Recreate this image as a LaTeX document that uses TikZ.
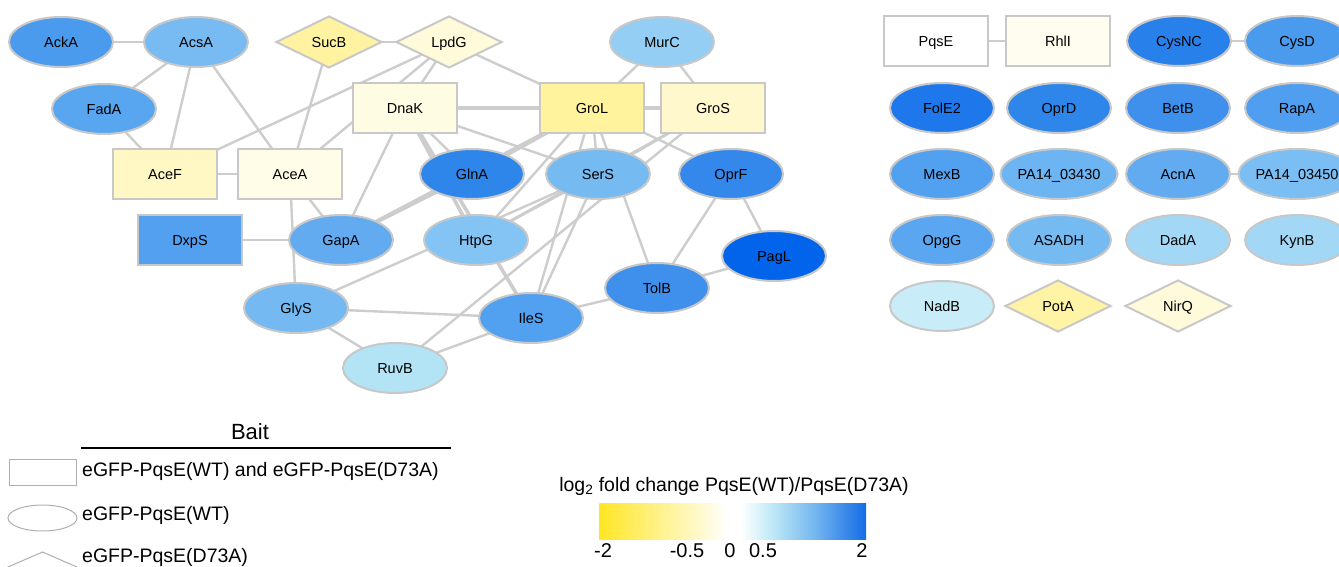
\documentclass[tikz,border=0pt]{standalone}
\usepackage{fontspec}
\setmainfont{Liberation Sans}
\usetikzlibrary{shapes.geometric}
\pgfdeclarelayer{bg}
\pgfsetlayers{bg,main}
\definecolor{edgec}{RGB}{205,205,205}
\definecolor{bordc}{RGB}{200,200,200}
\definecolor{legc}{RGB}{175,175,175}
\definecolor{cbA}{RGB}{255,230,35}
\definecolor{cbB}{RGB}{255,243,150}
\definecolor{cbC}{RGB}{255,250,215}
\definecolor{cbD}{RGB}{190,232,246}
\definecolor{cbE}{RGB}{120,185,240}
\definecolor{cbF}{RGB}{20,108,230}
\pgfdeclarehorizontalshading{fcbar}{100bp}{color(0bp)=(cbA); color(25bp)=(cbA); color(37.5bp)=(cbB); color(45bp)=(cbC); color(49bp)=(white); color(51.5bp)=(white); color(57.5bp)=(cbD); color(65bp)=(cbE); color(75bp)=(cbF); color(100bp)=(cbF)}
\tikzset{
  base/.style={draw=bordc, line width=2pt, font=\fontsize{14.5}{16}\selectfont, inner sep=0pt, text height=10.4pt, text depth=0pt},
  ell/.style={base, ellipse, minimum width=104pt, minimum height=50pt},
  box/.style={base, rectangle, minimum width=104pt, minimum height=50pt},
  dia/.style={base, diamond, minimum width=106pt, minimum height=52pt},
  edge/.style={draw=edgec, line width=2.4pt},
  dbl/.style={draw=edgec, line width=3.6pt},
  c/.style args={#1/#2/#3}{fill={rgb,255:red,#1;green,#2;blue,#3}},
  legtext/.style={anchor=west, inner sep=0pt, font=\fontsize{19.5}{22}\selectfont},
  legshape/.style={draw=legc, line width=1pt, fill=white, inner sep=0pt, minimum width=67pt, minimum height=26pt},
  tick/.style={inner sep=0pt, font=\fontsize{20}{22}\selectfont}
}
\begin{document}
\begin{tikzpicture}[x=1pt,y=-1pt]
\useasboundingbox (0,0) rectangle (1339,567);
% left network nodes
\node[ell,c=74/154/238] (AckA) at (61,42) {AckA};
\node[ell,c=120/187/242] (AcsA) at (196,42) {AcsA};
\node[dia,c=255/242/160] (SucB) at (329,42) {SucB};
\node[dia,c=255/250/218] (LpdG) at (449,42) {LpdG};
\node[ell,c=148/206/245] (MurC) at (662,42) {MurC};
\node[ell,c=88/165/240] (FadA) at (104,109) {FadA};
\node[box,c=255/252/228] (DnaK) at (405,108) {DnaK};
\node[box,c=255/243/158] (GroL) at (592,108) {GroL};
\node[box,c=255/248/205] (GroS) at (713,108) {GroS};
\node[box,c=255/247/196] (AceF) at (165,174) {AceF};
\node[box,c=255/252/232] (AceA) at (290,174) {AceA};
\node[ell,c=46/134/235] (GlnA) at (472,174) {GlnA};
\node[ell,c=118/186/242] (SerS) at (598,174) {SerS};
\node[ell,c=52/136/236] (OprF) at (731,174) {OprF};
\node[box,c=84/160/240] (DxpS) at (190,240) {DxpS};
\node[ell,c=98/171/240] (GapA) at (341,240) {GapA};
\node[ell,c=132/196/245] (HtpG) at (476,240) {HtpG};
\node[ell,c=2/100/235] (PagL) at (774,256) {PagL};
\node[ell,c=62/144/236] (TolB) at (657,288) {TolB};
\node[ell,c=116/185/241] (GlyS) at (296,308) {GlyS};
\node[ell,c=82/160/240] (IleS) at (531,318) {IleS};
\node[ell,c=178/228/246] (RuvB) at (395,368) {RuvB};
% right panel nodes
\node[box,fill=white] (PqsE) at (936,41) {PqsE};
\node[box,c=255/253/240] (RhlI) at (1058,41) {RhlI};
\node[ell,c=40/128/235] (CysNC) at (1179,41) {CysNC};
\node[ell,c=74/154/238] (CysD) at (1297,41) {CysD};
\node[ell,c=30/120/235] (FolE2) at (942,108) {FolE2};
\node[ell,c=46/134/235] (OprD) at (1059,108) {OprD};
\node[ell,c=62/144/236] (BetB) at (1178,108) {BetB};
\node[ell,c=80/158/239] (RapA) at (1297,108) {RapA};
\node[ell,c=82/160/240] (MexB) at (942,174) {MexB};
\node[ell,c=108/180/242] (pa3430) at (1059,174) {PA14\_03430};
\node[ell,c=98/171/240] (AcnA) at (1178,174) {AcnA};
\node[ell,c=122/190/243] (pa3450) at (1297,174) {PA14\_03450};
\node[ell,c=90/166/240] (OpgG) at (942,240) {OpgG};
\node[ell,c=118/186/242] (ASADH) at (1059,240) {ASADH};
\node[ell,c=162/216/246] (DadA) at (1178,240) {DadA};
\node[ell,c=162/216/246] (KynB) at (1297,240) {KynB};
\node[ell,c=200/237/248] (NadB) at (942,306) {NadB};
\node[dia,c=255/243/165] (PotA) at (1058,306) {PotA};
\node[dia,c=255/250/218] (NirQ) at (1178,306) {NirQ};
% edges
\begin{pgfonlayer}{bg}
\foreach \a/\b in {AckA/AcsA, SucB/LpdG, AcsA/FadA, AcsA/AceF, AcsA/AceA, FadA/AceF, AceF/AceA,
  LpdG/AceF, SucB/AceA, LpdG/AceA, LpdG/DnaK, LpdG/GroL, MurC/GroL, MurC/GroS,
  DnaK/GapA, DnaK/GlnA, DnaK/SerS, GroL/SerS, GroL/HtpG, GroL/IleS, GroL/TolB, GroL/OprF,
  GroS/SerS, GroS/HtpG, GroS/RuvB, HtpG/SerS, SerS/IleS, SerS/GlyS,
  OprF/TolB, OprF/PagL, TolB/PagL, TolB/IleS, IleS/GlyS, IleS/RuvB, GlyS/RuvB,
  AceA/GapA, AceA/GlyS, DxpS/GapA, PqsE/RhlI, CysNC/CysD, AcnA/pa3450}
  \draw[edge] (\a.center) -- (\b.center);
\foreach \a/\b in {DnaK/GroL, GroL/GroS, GroL/GlnA, GroL/GapA, GlnA/GapA, DnaK/HtpG, DnaK/IleS}
  \draw[dbl] (\a.center) -- (\b.center);
\end{pgfonlayer}
% legend
\node[inner sep=0pt, font=\fontsize{22}{24}\selectfont] (bait) at (250,432) {Bait};
\coordinate (bl) at (81,448);
\coordinate (br) at (451,448);
\draw[line width=1.5pt] (bl) -- (br);
\node[legshape, rectangle] (lrect) at (43,472) {};
\node[legtext] (t1) at (82,471) {eGFP-PqsE(WT) and eGFP-PqsE(D73A)};
\node[legshape, ellipse, minimum width=69pt] (lell) at (42.5,518) {};
\node[legtext] (t2) at (82,515) {eGFP-PqsE(WT)};
\draw[draw=legc, line width=1pt, fill=white] (8,567) -- (42.5,552) -- (77,567) -- (42.5,582) -- cycle;
\node[legtext] (t3) at (82,557) {eGFP-PqsE(D73A)};
% colour bar
\node[inner sep=0pt, font=\fontsize{19.5}{21}\selectfont] (cbt) at (734,486) {log\textsubscript{2} fold change PqsE(WT)/PqsE(D73A)};
\shade[shading=fcbar] (599,503) rectangle (866,539);
\node[tick] (m2) at (603,551) {-2};
\node[tick] (m05) at (687,551) {-0.5};
\node[tick] (z0) at (730,551) {0};
\node[tick] (p05) at (763,551) {0.5};
\node[tick] (p2) at (862,551) {2};
\end{tikzpicture}
\end{document}
